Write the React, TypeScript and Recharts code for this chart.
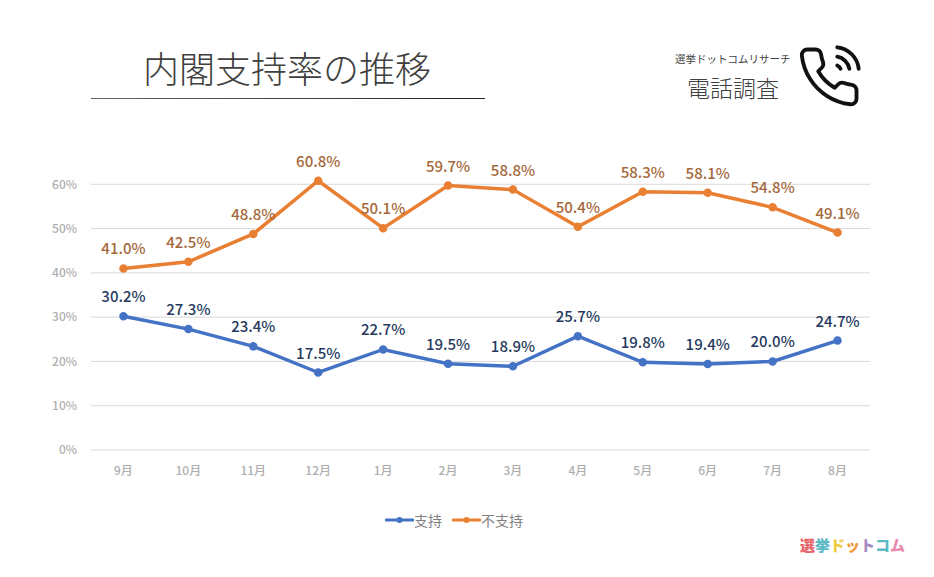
import React from 'react';
import { LineChart, Line, XAxis, YAxis, CartesianGrid, Legend, LabelList } from 'recharts';

const months = ['9月', '10月', '11月', '12月', '1月', '2月', '3月', '4月', '5月', '6月', '7月', '8月'];
const approve = [30.2, 27.3, 23.4, 17.5, 22.7, 19.5, 18.9, 25.7, 19.8, 19.4, 20.0, 24.7];
const disapprove = [41.0, 42.5, 48.8, 60.8, 50.1, 59.7, 58.8, 50.4, 58.3, 58.1, 54.8, 49.1];
const yTicks = [0, 10, 20, 30, 40, 50, 60];
const logoChars = ['選', '挙', 'ド', 'ッ', 'ト', 'コ', 'ム'];
const logoColors = ['#e8636a', '#5bb8c4', '#f0c93a', '#ef9a3c', '#a58bc4', '#5bb8c4', '#e88bb0'];

const data = months.map((month, i) => ({ month, approve: approve[i], disapprove: disapprove[i] }));

const font = '"Noto Sans CJK JP", "Noto Sans", sans-serif';
const pct = (v: number) => `${v.toFixed(1)}%`;

const renderLegend = ({ payload }: any) => (
  <div style={{ display: 'flex', justifyContent: 'center', gap: 10, fontSize: 14, lineHeight: '18px', color: '#7f7f7f' }}>
    {(payload || []).map((item: any) => (
      <span key={item.value} style={{ display: 'inline-flex', alignItems: 'center' }}>
        <svg width={29} height={10}>
          <line x1={1} y1={5} x2={28} y2={5} stroke={item.color} strokeWidth={3} strokeLinecap="round" />
          <circle cx={14.5} cy={5} r={3} fill={item.color} />
        </svg>
        {item.value}
      </span>
    ))}
  </div>
);

const App: React.FC = () => (
  <div style={{ position: 'absolute', left: 0, top: 0, width: 934, height: 577, background: '#fff', fontFamily: font, overflow: 'hidden' }}>
    <LineChart
      width={934}
      height={577}
      data={data}
      margin={{ top: 122, right: 64, bottom: 0, left: 51 }}
      style={{ fontFamily: font }}
    >
      <CartesianGrid vertical={false} stroke="#d9d9d9" horizontalValues={yTicks} />
      <XAxis
        dataKey="month"
        scale="band"
        axisLine={false}
        tickLine={false}
        height={127}
        interval={0}
        tick={{ fill: '#aeaeae', fontSize: 12, fontWeight: 500 }}
        tickMargin={10}
      />
      <YAxis
        width={40}
        domain={[0, 70]}
        ticks={yTicks}
        axisLine={false}
        tickLine={false}
        tickFormatter={(v: number) => `${v}%`}
        tick={{ fill: '#aeaeae', fontSize: 12, fontWeight: 500 }}
        tickMargin={8}
      />
      <Legend
        verticalAlign="top"
        itemSorter={null}
        content={renderLegend}
        wrapperStyle={{ top: 511, left: 0, width: 908 }}
      />
      <Line
        dataKey="approve"
        name="支持"
        stroke="#4472c4"
        strokeWidth={3.5}
        dot={{ r: 2.5, fill: '#4472c4', stroke: '#4472c4' }}
        isAnimationActive={false}
      >
        <LabelList dataKey="approve" position="top" offset={14} formatter={pct} fill="#263a5e" fontSize={15} fontWeight={500} />
      </Line>
      <Line
        dataKey="disapprove"
        name="不支持"
        stroke="#e97f32"
        strokeWidth={3.5}
        dot={{ r: 2.5, fill: '#e97f32', stroke: '#e97f32' }}
        isAnimationActive={false}
      >
        <LabelList dataKey="disapprove" position="top" offset={14} formatter={pct} fill="#a5683a" fontSize={15} fontWeight={500} />
      </Line>
    </LineChart>

    {/* header */}
    <div style={{ position: 'absolute', left: 143, top: 41, fontSize: 36, lineHeight: '52px', fontWeight: 300, color: '#404040', whiteSpace: 'nowrap' }}>
      内閣支持率の推移
    </div>
    <div style={{ position: 'absolute', left: 91, top: 98, width: 394, height: 1, background: 'linear-gradient(to right, #666, #222)' }} />
    <div style={{ position: 'absolute', left: 675, top: 51, fontSize: 10.5, lineHeight: '16px', color: '#404040', whiteSpace: 'nowrap' }}>
      選挙ドットコムリサーチ
    </div>
    <div style={{ position: 'absolute', left: 687, top: 71, fontSize: 23, lineHeight: '32px', fontWeight: 300, color: '#404040', whiteSpace: 'nowrap' }}>
      電話調査
    </div>
    <svg style={{ position: 'absolute', left: 796, top: 44 }} width={66} height={66} viewBox="0 0 24 24" fill="none" stroke="#111" strokeWidth={1.4} strokeLinecap="round" strokeLinejoin="round">
      <path d="M22 16.92v3a2 2 0 0 1-2.18 2 19.79 19.79 0 0 1-8.63-3.07 19.5 19.5 0 0 1-6-6 19.79 19.79 0 0 1-3.07-8.67A2 2 0 0 1 4.11 2h3a2 2 0 0 1 2 1.72 12.84 12.84 0 0 0 .7 2.81 2 2 0 0 1-.45 2.11L8.09 9.91a16 16 0 0 0 6 6l1.27-1.27a2 2 0 0 1 2.11-.45 12.84 12.84 0 0 0 2.81.7A2 2 0 0 1 22 16.92z" />
      <path d="M15 4.6A5.4 5.4 0 0 1 19.4 9M15 1.2A8.8 8.8 0 0 1 22.8 9M15 7.8A2.2 2.2 0 0 1 16.2 9" />
    </svg>

    {/* site logo */}
    <div style={{ position: 'absolute', left: 800, top: 534, fontSize: 15, lineHeight: '22px', fontWeight: 900, whiteSpace: 'nowrap' }}>
      {logoChars.map((c, i) => (
        <span key={c} style={{ color: logoColors[i] }}>{c}</span>
      ))}
    </div>
  </div>
);

export default App;
